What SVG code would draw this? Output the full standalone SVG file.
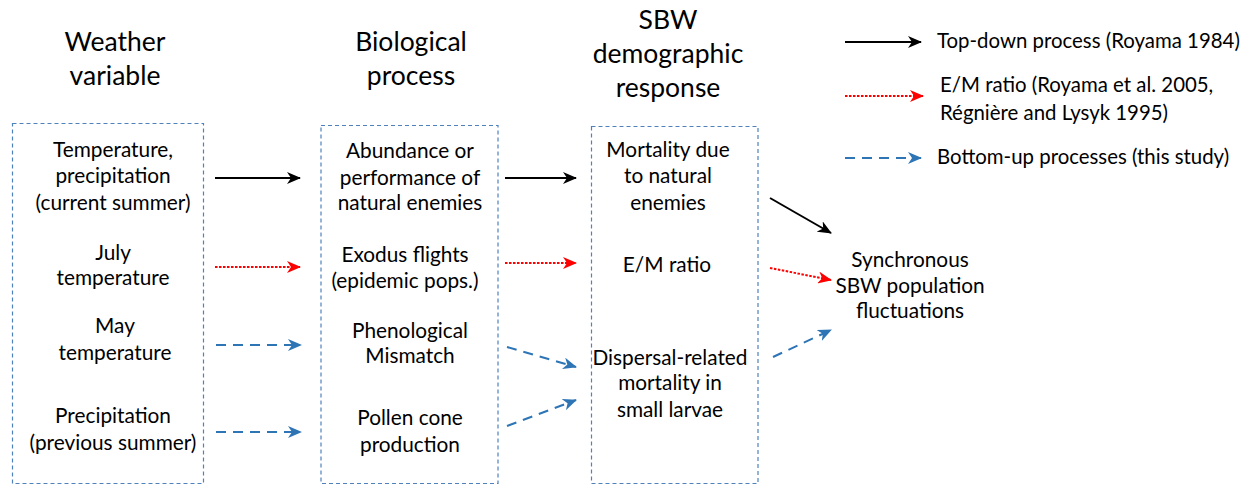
<svg xmlns="http://www.w3.org/2000/svg" width="1255" height="485" viewBox="0 0 1255 485">
<style>
text{font-family:Lato,"Liberation Sans",sans-serif;fill:#000;text-anchor:middle}
.t{font-size:26.5px}
.b{font-size:20.8px}
.l{font-size:20.4px;text-anchor:start}
.box{fill:none;stroke:#4f81bd;stroke-width:1.2;stroke-dasharray:4 3}
.k{stroke:#000;stroke-width:2;fill:none;marker-end:url(#mk)}
.r{stroke:#ff0000;stroke-width:2;fill:none;stroke-dasharray:2.5 1.5;marker-end:url(#mr)}
.u{stroke:#2e75b6;stroke-width:2;fill:none;stroke-dasharray:10 7;marker-end:url(#mu)}
</style>
<defs>
<marker id="mk" viewBox="0 0 14 12" refX="13" refY="6" markerWidth="14" markerHeight="12" markerUnits="userSpaceOnUse" orient="auto"><path d="M0,0 L14,6 L0,12 L4,6 z" fill="#000"/></marker>
<marker id="mr" viewBox="0 0 14 12" refX="13" refY="6" markerWidth="14" markerHeight="12" markerUnits="userSpaceOnUse" orient="auto"><path d="M0,0 L14,6 L0,12 L4,6 z" fill="#ff0000"/></marker>
<marker id="mu" viewBox="0 0 14 12" refX="13" refY="6" markerWidth="14" markerHeight="12" markerUnits="userSpaceOnUse" orient="auto"><path d="M0,0 L14,6 L0,12 L4,6 z" fill="#2e75b6"/></marker>
</defs>
<g id="titles">
<text class="t" x="115" y="51">Weather</text>
<text class="t" x="115" y="85">variable</text>
<text class="t" x="411" y="51">Biological</text>
<text class="t" x="411" y="85">process</text>
<text class="t" x="668" y="29">SBW</text>
<text class="t" x="668" y="63">demographic</text>
<text class="t" x="668" y="97">response</text>
</g>
<g id="weather">
<rect class="box" x="12.5" y="123.5" width="191" height="360"/>
<text class="b" x="113" y="157">Temperature,</text>
<text class="b" x="113" y="183">precipitation</text>
<text class="b" x="113" y="210">(current summer)</text>
<text class="b" x="113" y="260">July</text>
<text class="b" x="113" y="285">temperature</text>
<text class="b" x="115" y="333">May</text>
<text class="b" x="115" y="360">temperature</text>
<text class="b" x="113" y="423">Precipitation</text>
<text class="b" x="113" y="450">(previous summer)</text>
</g>
<g id="biological">
<rect class="box" x="321" y="125.5" width="177" height="358"/>
<text class="b" x="410" y="158">Abundance or</text>
<text class="b" x="410" y="185">performance of</text>
<text class="b" x="410" y="210">natural enemies</text>
<text class="b" x="405" y="262">Exodus flights</text>
<text class="b" x="405" y="288">(epidemic pops.)</text>
<text class="b" x="410" y="338">Phenological</text>
<text class="b" x="410" y="363">Mismatch</text>
<text class="b" x="410" y="425">Pollen cone</text>
<text class="b" x="410" y="452">production</text>
</g>
<g id="demographic">
<rect class="box" x="591.5" y="126.5" width="166.5" height="357"/>
<text class="b" x="668" y="157">Mortality due</text>
<text class="b" x="668" y="183">to natural</text>
<text class="b" x="668" y="210">enemies</text>
<text class="b" x="667" y="272">E/M ratio</text>
<text class="b" x="670" y="365">Dispersal-related</text>
<text class="b" x="670" y="390">mortality in</text>
<text class="b" x="670" y="417">small larvae</text>
</g>
<g id="synchrony">
<text class="b" x="910" y="267">Synchronous</text>
<text class="b" x="910" y="293">SBW population</text>
<text class="b" x="910" y="318">fluctuations</text>
</g>
<g id="connectors">
<line class="k" x1="215" y1="178" x2="300" y2="178"/>
<line class="r" x1="215" y1="267" x2="300" y2="267"/>
<line class="u" x1="216" y1="345" x2="301" y2="345"/>
<line class="u" x1="216" y1="432" x2="301" y2="432"/>
<line class="k" x1="505" y1="178" x2="576" y2="178"/>
<line class="r" x1="505" y1="263" x2="576" y2="263"/>
<line class="u" x1="507" y1="347" x2="576" y2="367"/>
<line class="u" x1="507" y1="426" x2="576" y2="400"/>
<line class="k" x1="770" y1="198" x2="831" y2="233"/>
<line class="r" x1="770" y1="268" x2="831" y2="280"/>
<line class="u" x1="773" y1="357" x2="831" y2="330"/>
</g>
<g id="legend">
<line class="k" x1="845" y1="42" x2="921" y2="42"/>
<text class="l" x="937" y="48">Top-down process (Royama 1984)</text>
<line class="r" x1="845" y1="96" x2="923" y2="96"/>
<text class="l" x="940" y="92">E/M ratio (Royama et al. 2005,</text>
<text class="l" x="940" y="120">Régnière and Lysyk 1995)</text>
<line class="u" x1="845" y1="158" x2="921" y2="158"/>
<text class="l" x="937" y="164">Bottom-up processes (this study)</text>
</g>
</svg>
